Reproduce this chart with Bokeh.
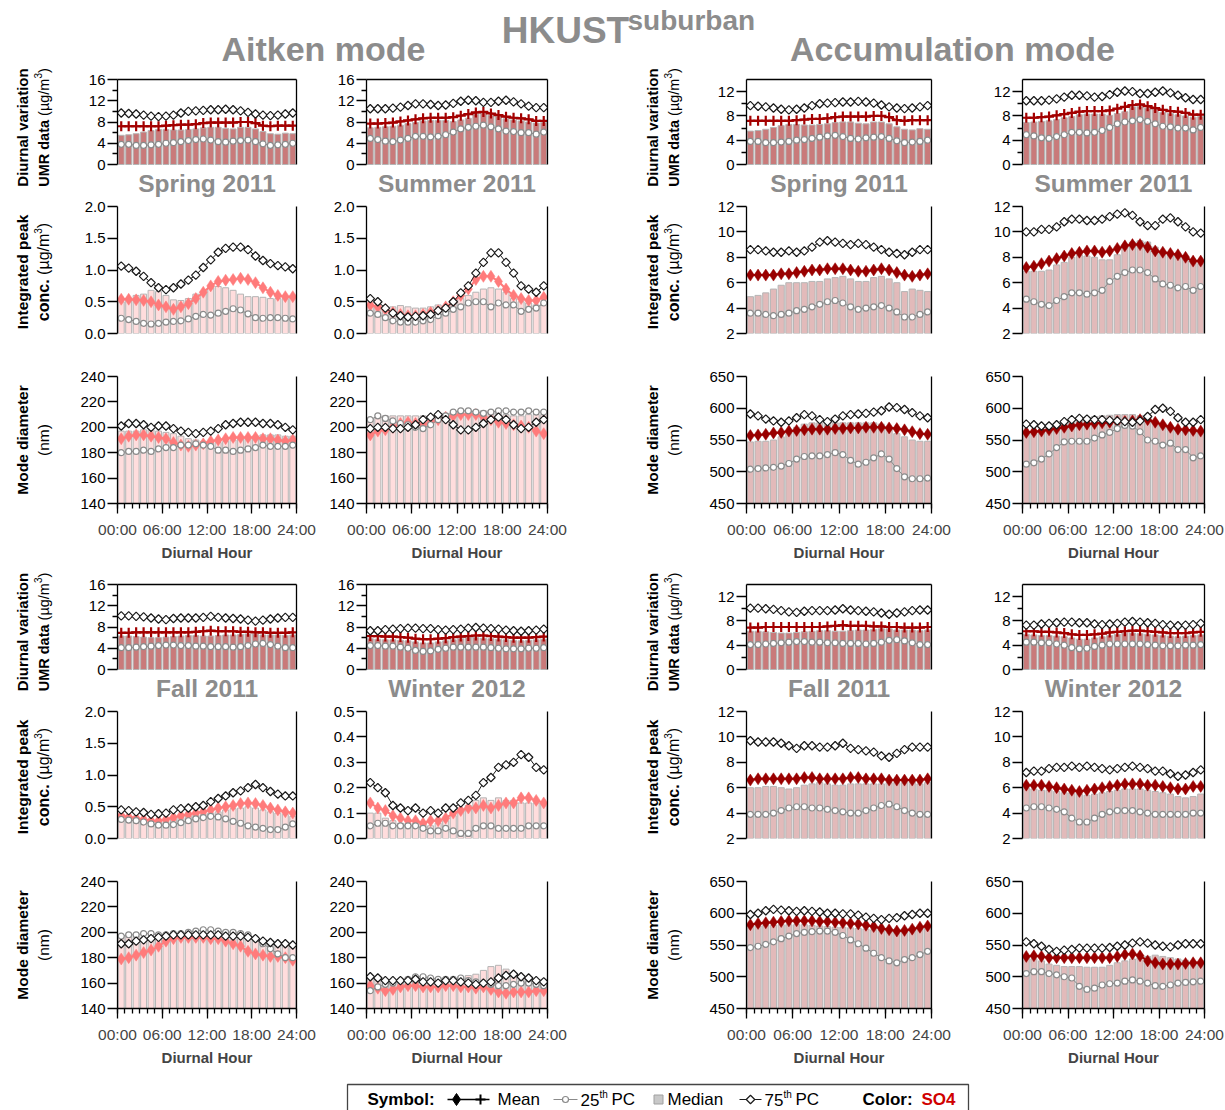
from math import pi
from bokeh.plotting import figure
from bokeh.layouts import column, row
from bokeh.models import (Range1d, LinearAxis, FixedTicker, NumeralTickFormatter,
                          Label, ColumnDataSource)
from bokeh.embed import file_html
from bokeh.resources import INLINE

FONT = "Liberation Sans"
TICK_FS = "15px"

HOURS = [h + 0.5 for h in range(24)]
X_TICKS = [0, 6, 12, 18, 24]
X_TICK_LABELS = ["00:00", "06:00", "12:00", "18:00", "24:00"]
X_MINOR = list(range(25))
SEASONS = ["Spring 2011", "Summer 2011", "Fall 2011", "Winter 2012"]

# ---------------- UMR data (shared by both modes) ----------------
umr_spr_p75 = [9.7,9.6,9.5,9.3,9.1,9.0, 9.1,9.3,9.7,10.0,10.1,10.2, 10.3,10.3,10.4,10.3,10.1,9.8, 9.5,9.3,9.2,9.3,9.5,9.7]
umr_spr_mean = [7.2,7.2,7.2,7.2,7.2,7.2, 7.3,7.4,7.5,7.5,7.6,7.8, 7.9,7.9,7.9,7.9,8.0,8.0, 7.8,7.3,7.2,7.3,7.3,7.3]
umr_spr_med = [5.5,5.6,5.8,6.1,6.4,6.6, 6.6,6.5,6.5,6.6,6.7,6.9, 7.0,7.0,6.8,6.7,7.0,7.0, 6.7,6.2,5.8,5.7,5.9,5.8]
umr_spr_p25 = [3.8,3.8,3.6,3.6,3.7,3.8, 4.0,4.1,4.3,4.5,4.7,4.8, 4.6,4.3,4.2,4.4,4.5,4.6, 4.3,3.9,3.6,3.7,3.8,4.0]

umr_sum_p75 = [10.5,10.5,10.5,10.6,10.8,11.1, 11.4,11.4,11.3,11.1,11.2,11.5, 11.9,12.1,12.0,11.7,11.7,11.9, 12.1,11.8,11.4,11.0,10.7,10.7]
umr_sum_mean = [7.7,7.7,7.8,7.9,8.1,8.3, 8.5,8.7,8.8,8.8,8.8,8.9, 9.2,9.5,9.8,9.9,9.6,9.3, 9.0,8.8,8.7,8.5,8.2,8.2]
umr_sum_med = [6.9,7.0,7.1,7.2,7.4,7.7, 7.9,8.2,8.3,8.3,8.3,8.1, 8.4,8.7,9.5,9.6,9.3,9.1, 8.6,8.4,8.2,8.0,7.8,7.9]
umr_sum_p25 = [4.9,4.7,4.4,4.3,4.6,4.9, 5.3,5.3,5.2,5.3,5.6,6.1, 6.7,7.0,7.2,7.4,7.1,6.7, 6.3,6.2,6.0,6.0,5.7,6.1]

umr_fal_p75 = [10.1,10.1,10.0,9.9,9.7,9.5, 9.4,9.6,9.7,9.7,9.7,9.8, 10.0,9.8,9.7,9.6,9.5,9.3, 9.1,9.3,9.5,9.7,9.8,9.8]
umr_fal_mean = [6.9,6.9,7.0,7.0,7.0,7.0, 7.0,7.0,7.0,7.0,7.1,7.2, 7.3,7.2,7.2,7.2,7.1,7.1, 7.0,7.0,6.9,6.9,6.9,7.0]
umr_fal_med = [6.3,6.3,6.2,6.1,6.0,6.0, 6.1,6.2,6.3,6.4,6.4,6.3, 6.3,6.4,6.5,6.5,6.6,6.7, 6.7,6.5,6.5,6.5,6.4,6.5]
umr_fal_p25 = [4.1,4.1,4.2,4.3,4.4,4.5, 4.6,4.6,4.5,4.5,4.4,4.4, 4.3,4.3,4.3,4.2,4.3,4.5, 4.8,4.9,4.7,4.4,4.1,4.1]

umr_win_p75 = [7.3,7.3,7.5,7.6,7.7,7.8, 7.8,7.7,7.7,7.5,7.4,7.5, 7.6,7.8,7.9,7.8,7.7,7.6, 7.4,7.3,7.2,7.3,7.4,7.6]
umr_win_mean = [6.3,6.3,6.2,6.2,6.1,6.0, 5.8,5.7,5.7,5.8,5.9,6.1, 6.2,6.3,6.4,6.4,6.3,6.2, 6.1,6.0,6.0,6.0,6.1,6.2]
umr_win_med = [5.8,5.7,5.6,5.6,5.5,5.4, 5.2,5.0,5.0,5.2,5.4,5.6, 5.8,6.0,6.0,5.9,5.8,5.7, 5.6,5.5,5.4,5.5,5.6,5.7]
umr_win_p25 = [4.5,4.5,4.4,4.4,4.2,4.0, 3.6,3.4,3.5,3.8,4.0,4.2, 4.2,4.2,4.2,4.2,4.1,4.0, 3.9,3.9,3.9,4.0,4.0,4.1]

# ---------------- Aitken integrated peak conc. ----------------
ait_int_spr_p75 = [1.06,1.03,0.98,0.90,0.80,0.72, 0.69,0.72,0.78,0.84,0.92,1.04, 1.16,1.28,1.34,1.36,1.36,1.32, 1.22,1.15,1.10,1.07,1.05,1.02]
ait_int_spr_mean = [0.54,0.54,0.53,0.52,0.50,0.45, 0.42,0.38,0.42,0.47,0.55,0.65, 0.75,0.82,0.84,0.85,0.87,0.85, 0.80,0.72,0.65,0.60,0.58,0.58]
ait_int_spr_med = [0.50,0.55,0.60,0.62,0.68,0.66, 0.60,0.53,0.52,0.55,0.62,0.66, 0.72,0.74,0.72,0.68,0.62,0.58, 0.58,0.57,0.55,0.55,0.55,0.56]
ait_int_spr_p25 = [0.24,0.22,0.19,0.16,0.15,0.16, 0.18,0.19,0.20,0.23,0.27,0.30, 0.29,0.32,0.35,0.39,0.37,0.31, 0.25,0.24,0.25,0.25,0.24,0.23]

ait_int_sum_p75 = [0.55,0.50,0.40,0.32,0.28,0.26, 0.27,0.28,0.30,0.36,0.40,0.50, 0.64,0.75,0.95,1.12,1.27,1.27, 1.12,0.95,0.75,0.70,0.65,0.75]
ait_int_sum_mean = [0.45,0.42,0.38,0.33,0.30,0.28, 0.28,0.30,0.33,0.36,0.42,0.50, 0.60,0.70,0.85,0.90,0.90,0.82, 0.70,0.60,0.55,0.52,0.52,0.57]
ait_int_sum_med = [0.42,0.42,0.40,0.42,0.44,0.42, 0.40,0.40,0.42,0.45,0.42,0.48, 0.55,0.60,0.65,0.70,0.72,0.70, 0.65,0.55,0.50,0.48,0.45,0.48]
ait_int_sum_p25 = [0.32,0.30,0.25,0.20,0.18,0.18, 0.18,0.20,0.22,0.28,0.32,0.38, 0.42,0.48,0.50,0.50,0.42,0.48, 0.45,0.45,0.35,0.38,0.40,0.48]

ait_int_fal_p75 = [0.45,0.44,0.42,0.41,0.38,0.39, 0.40,0.45,0.47,0.48,0.50,0.52, 0.58,0.63,0.67,0.72,0.75,0.80, 0.85,0.80,0.74,0.70,0.67,0.67]
ait_int_fal_mean = [0.36,0.34,0.32,0.30,0.28,0.28, 0.30,0.33,0.36,0.38,0.40,0.42, 0.45,0.48,0.50,0.52,0.55,0.56, 0.55,0.52,0.48,0.45,0.42,0.40]
ait_int_fal_med = [0.38,0.33,0.30,0.28,0.25,0.25, 0.27,0.30,0.33,0.35,0.37,0.38, 0.40,0.42,0.45,0.47,0.48,0.50, 0.48,0.45,0.42,0.40,0.38,0.35]
ait_int_fal_p25 = [0.30,0.29,0.28,0.26,0.23,0.21, 0.21,0.22,0.25,0.28,0.31,0.33, 0.35,0.34,0.31,0.27,0.24,0.20, 0.18,0.16,0.14,0.14,0.18,0.23]

ait_int_win_p75 = [0.22,0.20,0.18,0.13,0.12,0.11, 0.12,0.10,0.11,0.10,0.12,0.12, 0.14,0.15,0.17,0.22,0.24,0.28, 0.29,0.30,0.33,0.32,0.28,0.27]
ait_int_win_mean = [0.14,0.12,0.11,0.09,0.08,0.07, 0.07,0.06,0.07,0.07,0.08,0.10, 0.11,0.12,0.12,0.13,0.12,0.13, 0.14,0.14,0.16,0.16,0.15,0.14]
ait_int_win_med = [0.10,0.10,0.08,0.07,0.06,0.06, 0.06,0.06,0.05,0.06,0.07,0.09, 0.11,0.13,0.15,0.16,0.15,0.16, 0.15,0.15,0.14,0.14,0.14,0.14]
ait_int_win_p25 = [0.05,0.06,0.06,0.05,0.05,0.05, 0.05,0.04,0.03,0.03,0.04,0.03, 0.02,0.02,0.04,0.05,0.05,0.04, 0.04,0.04,0.04,0.05,0.05,0.05]

# ---------------- Accumulation integrated peak conc. ----------------
acc_int_spr_p75 = [8.6,8.6,8.5,8.4,8.4,8.5, 8.4,8.5,8.8,9.2,9.3,9.2, 9.1,9.0,9.1,9.0,8.8,8.6, 8.4,8.3,8.2,8.4,8.6,8.6]
acc_int_spr_mean = [6.6,6.6,6.6,6.6,6.7,6.7, 6.8,6.9,7.0,7.0,7.1,7.1, 7.1,7.0,6.9,6.9,7.0,7.1, 7.0,6.8,6.6,6.5,6.6,6.7]
acc_int_spr_med = [4.9,5.0,5.2,5.5,5.8,6.0, 6.0,6.0,6.1,6.1,6.3,6.4, 6.5,6.3,6.1,6.1,6.4,6.5, 6.3,6.0,5.3,5.5,5.4,5.3]
acc_int_spr_p25 = [3.6,3.6,3.5,3.4,3.5,3.6, 3.8,3.9,4.1,4.3,4.5,4.6, 4.4,4.1,3.9,4.0,4.1,4.2, 4.0,3.7,3.3,3.3,3.5,3.7]

acc_int_sum_p75 = [10.0,10.0,10.2,10.2,10.4,10.8, 11.0,11.0,10.9,10.9,11.0,11.2, 11.4,11.5,11.3,10.8,10.5,10.5, 11.0,11.1,10.8,10.4,10.0,9.9]
acc_int_sum_mean = [7.2,7.3,7.5,7.7,7.9,8.1, 8.3,8.4,8.5,8.5,8.4,8.5, 8.7,8.9,9.0,9.0,8.8,8.5, 8.4,8.3,8.2,8.0,7.7,7.7]
acc_int_sum_med = [6.9,6.9,6.9,7.0,7.4,7.6, 8.0,8.2,8.1,8.0,7.8,7.8, 8.2,8.8,9.2,9.3,9.2,8.8, 8.4,8.2,8.2,8.0,7.8,7.5]
acc_int_sum_p25 = [4.7,4.5,4.3,4.2,4.6,4.9, 5.2,5.2,5.1,5.2,5.4,6.1, 6.5,6.8,7.0,7.0,6.8,6.3, 5.9,5.8,5.6,5.7,5.4,5.7]

acc_int_fal_p75 = [9.7,9.6,9.6,9.6,9.5,9.3, 9.1,9.3,9.3,9.2,9.2,9.3, 9.5,9.1,9.0,8.9,8.8,8.5, 8.4,8.7,9.0,9.2,9.2,9.2]
acc_int_fal_mean = [6.6,6.7,6.7,6.7,6.7,6.7, 6.7,6.8,6.8,6.7,6.7,6.7, 6.7,6.8,6.8,6.7,6.7,6.7, 6.6,6.6,6.6,6.6,6.6,6.7]
acc_int_fal_med = [6.0,6.0,6.1,6.1,6.0,5.9, 6.0,6.2,6.3,6.4,6.3,6.2, 6.2,6.3,6.3,6.3,6.3,6.3, 6.4,6.4,6.4,6.5,6.3,6.4]
acc_int_fal_p25 = [3.9,3.9,3.9,4.0,4.2,4.4, 4.5,4.5,4.4,4.4,4.3,4.2, 4.1,4.0,4.0,4.2,4.4,4.6, 4.7,4.5,4.2,4.0,3.9,3.9]

acc_int_win_p75 = [7.2,7.3,7.3,7.5,7.6,7.6, 7.7,7.6,7.7,7.6,7.5,7.4, 7.5,7.6,7.7,7.6,7.5,7.3, 7.3,7.1,6.9,7.0,7.2,7.4]
acc_int_win_mean = [6.2,6.2,6.2,6.1,6.0,5.9, 5.8,5.7,5.8,5.9,6.0,6.1, 6.2,6.3,6.3,6.3,6.2,6.2, 6.1,6.0,5.9,5.9,6.1,6.1]
acc_int_win_med = [6.0,5.9,5.8,5.8,5.7,5.6, 5.6,5.5,5.4,5.5,5.6,5.7, 5.8,5.9,5.9,5.9,5.8,5.7, 5.6,5.5,5.3,5.2,5.3,5.5]
acc_int_win_p25 = [4.4,4.5,4.5,4.4,4.3,4.1, 3.6,3.3,3.3,3.6,3.9,4.1, 4.2,4.2,4.2,4.1,4.0,3.9, 3.9,3.9,3.9,3.9,4.0,4.0]

# ---------------- Aitken mode diameter ----------------
ait_dia_spr_p75 = [201,203,203,202,200,201, 201,199,197,196,195,196, 197,199,202,203,204,204, 204,203,203,202,200,198]
ait_dia_spr_mean = [191,193,194,194,193,192, 191,188,186,185,186,187, 189,190,191,192,192,192, 192,191,191,190,189,190]
ait_dia_spr_med = [197,197,197,198,198,197, 196,195,193,191,190,189, 188,188,189,190,191,192, 193,194,194,194,193,193]
ait_dia_spr_p25 = [180,181,181,182,181,183, 184,184,186,186,187,186, 185,182,182,181,182,183, 184,186,185,185,185,186]

ait_dia_sum_p75 = [199,200,200,199,199,200, 202,206,208,210,206,202, 198,198,200,203,206,208, 206,202,199,200,204,206]
ait_dia_sum_mean = [194,197,198,200,203,204, 203,202,204,206,208,209, 210,210,210,208,206,204, 203,202,201,200,197,195]
ait_dia_sum_med = [207,208,209,209,209,209, 209,209,209,210,211,212, 213,213,213,213,213,212, 210,209,209,210,210,210]
ait_dia_sum_p25 = [206,209,207,205,203,202, 200,199,202,206,209,212, 213,213,212,211,212,213, 213,212,212,213,212,212]

ait_dia_fal_p75 = [191,191,193,194,195,196, 197,198,198,198,198,198, 198,198,197,197,197,196, 195,193,192,191,191,190]
ait_dia_fal_mean = [179,180,182,184,186,189, 193,195,196,196,196,196, 195,195,193,191,189,185, 183,182,181,181,180,178]
ait_dia_fal_med = [197,197,197,196,196,197, 198,198,199,200,200,200, 200,200,199,199,199,198, 195,194,193,192,190,190]
ait_dia_fal_p25 = [197,198,198,199,199,198, 198,199,199,200,201,202, 202,201,200,200,199,198, 195,191,187,183,180,180]

ait_dia_win_p75 = [165,164,162,162,162,162, 163,161,161,160,162,162, 161,160,159,160,161,164, 166,167,165,164,162,161]
ait_dia_win_mean = [158,156,154,155,157,158, 158,157,157,157,158,158, 157,157,156,157,155,153, 152,153,153,153,154,154]
ait_dia_win_med = [165,164,163,162,163,164, 165,165,165,164,164,164, 165,166,167,170,173,174, 171,168,165,164,163,163]
ait_dia_win_p25 = [154,157,159,160,162,163, 165,165,164,163,163,163, 164,162,161,160,159,158, 158,159,160,160,159,158]

# ---------------- Accumulation mode diameter ----------------
acc_dia_spr_p75 = [591,588,583,580,578,580, 585,590,588,582,579,583, 588,590,591,592,594,596, 602,601,598,593,588,585]
acc_dia_spr_mean = [557,558,559,561,562,564, 565,566,567,567,567,568, 568,569,569,570,570,570, 569,568,566,563,560,559]
acc_dia_spr_med = [547,548,548,550,555,562, 570,575,577,577,577,577, 577,577,577,577,577,575, 570,560,555,550,548,548]
acc_dia_spr_p25 = [504,505,506,507,509,513, 520,524,525,525,527,530, 527,518,512,515,522,528, 520,505,492,489,489,490]

acc_dia_sum_p75 = [575,574,572,572,574,579, 582,584,583,582,582,581, 580,579,578,580,587,598, 600,595,585,578,578,582]
acc_dia_sum_mean = [562,563,564,566,568,570, 572,574,575,576,577,578, 579,579,580,582,582,578, 574,570,567,566,565,564]
acc_dia_sum_med = [560,560,565,570,575,580, 583,585,586,587,588,589, 590,590,590,588,585,580, 575,570,568,566,564,562]
acc_dia_sum_p25 = [512,514,520,528,538,547, 548,548,548,553,558,562, 568,573,572,563,550,548, 542,545,535,535,522,525]

acc_dia_fal_p75 = [598,600,604,606,605,604, 603,604,603,602,600,600, 599,599,597,594,592,590, 592,593,596,598,600,600]
acc_dia_fal_mean = [582,584,585,586,587,588, 588,588,588,587,587,586, 585,584,583,581,579,576, 574,572,573,575,578,580]
acc_dia_fal_med = [580,580,581,581,582,582, 582,582,581,580,579,578, 578,577,576,575,574,573, 573,574,575,576,577,578]
acc_dia_fal_p25 = [546,548,551,555,560,564, 568,570,571,572,572,570, 565,558,552,545,537,530, 525,522,527,530,535,540]

acc_dia_win_p75 = [555,552,548,543,540,542, 543,545,545,545,545,546, 548,550,553,555,553,550, 548,547,550,552,552,552]
acc_dia_win_mean = [532,533,532,530,530,530, 530,530,530,530,530,530, 532,535,536,533,525,522, 520,520,520,521,522,522]
acc_dia_win_med = [530,528,525,520,518,516, 516,516,515,515,515,518, 522,525,528,530,532,534, 532,530,528,526,524,522]
acc_dia_win_p25 = [505,508,508,505,503,500, 498,485,480,482,487,489, 490,493,495,493,490,486, 485,487,490,491,492,493]

# ---------------- axis specs ----------------
UMR_AIT_RANGE, UMR_AIT_TICKS, UMR_AIT_MINOR = (0, 16), [0, 4, 8, 12, 16], [2, 6, 10, 14]
UMR_ACC_RANGE, UMR_ACC_TICKS, UMR_ACC_MINOR = (0, 14), [0, 4, 8, 12], [2, 6, 10]
INT_AIT_RANGE, INT_AIT_TICKS = (0, 2.0), [0.0, 0.5, 1.0, 1.5, 2.0]
INT_AIT_WIN_RANGE, INT_AIT_WIN_TICKS = (0, 0.5), [0.0, 0.1, 0.2, 0.3, 0.4, 0.5]
INT_ACC_RANGE, INT_ACC_TICKS = (2, 12), [2, 4, 6, 8, 10, 12]
DIA_AIT_RANGE, DIA_AIT_TICKS = (140, 240), [140, 160, 180, 200, 220, 240]
DIA_ACC_RANGE, DIA_ACC_TICKS = (450, 650), [450, 500, 550, 600, 650]

# ---------------- styles ----------------
MEAN_UMR = "#A30000"
MEAN_AIT = "#FF7B7B"
MEAN_ACC = "#990000"
BAR_UMR = "#C97A7A"
BAR_AIT = "#FFDDDD"
BAR_ACC = "#E2BABA"
BAR_LINE = "#B5B5B5"
P25_COL = "#8A8A8A"
P75_COL = "#1A1A1A"
GRAY_T = "#8C8C8C"

# column geometry: [left border, frame width, right border]
COL_BL = [55, 50, 56, 71]
COL_FW = [179, 181, 185, 182]
COL_BR = [20, 53, 20, 20]
LAB_L_W, LAB_M_W = 62, 90
TOTAL_W = LAB_L_W + LAB_M_W + sum(COL_BL) + sum(COL_FW) + sum(COL_BR)

TITLE_H = 67
UMR_H, INT_H, DIA_H = 85, 127, 127
UMR_EXT = 33          # space below the UMR data area that holds the season title
SEASON_DY = 19        # season title centre, px below the UMR zero line
UMR_TOP = [12, 21]
INT_TOP, INT_BOT = 9, 22
DIA_TOP, DIA_BOT = 21, 59

REG_W = {' ': .278, '(': .333, ')': .333, 'µ': .576, 'g': .556, '/': .278, 'm': .833,
         '3': .556, 'n': .556, 'c': .5, 'o': .556, '.': .278}
BOLD_W = {'U': .722, 'M': .833, 'R': .722, ' ': .278, 'd': .611, 'a': .556, 't': .333,
          'c': .556, 'o': .611, 'n': .611, '.': .278}


def text_w(s, bold, size):
    tab = BOLD_W if bold else REG_W
    return sum(tab.get(ch, 0.55) for ch in s) * size


def base_fig(fw, fh, bl, br, bt, bb, xr, yr):
    p = figure(frame_width=fw, frame_height=fh, min_border_left=bl, min_border_right=br,
               min_border_top=bt, min_border_bottom=bb, x_range=xr, y_range=yr,
               x_axis_location=None, y_axis_location=None, toolbar_location=None,
               tools="", title=None, output_backend="svg", outline_line_color=None,
               background_fill_color="white", border_fill_color="white")
    p.grid.visible = False
    return p


def canvas_fig(w, h):
    # plain drawing area whose data units are pixels from its top-left corner
    return base_fig(w, h, 0, 0, 0, 0, Range1d(0, w), Range1d(h, 0))


def edge_axis(bounds="auto"):
    return LinearAxis(ticker=FixedTicker(ticks=[]), bounds=bounds,
                      major_tick_line_color=None, minor_tick_line_color=None,
                      major_tick_out=0, minor_tick_out=0,
                      major_label_text_font_size="0px", major_label_standoff=0,
                      axis_line_width=1.3, axis_line_color="black")


def txt(p, x, y, text, size, bold=False, color="black", align="left", angle=0.0,
        font=FONT):
    p.add_layout(Label(x=x, y=y, text=text, angle=angle, text_font=font,
                       text_font_size=f"{size}px",
                       text_font_style="bold" if bold else "normal", text_color=color,
                       text_align=align, text_baseline="middle"))


def vlabel_two(p, x1, x2, yc, line1, pieces, size1=15):
    """pieces: (text, bold, size, x shift, gap before in px)"""
    txt(p, x1, yc, line1, size1, True, align="center", angle=pi / 2)
    total = sum(text_w(t, b, s) + gap for t, b, s, _, gap in pieces)
    pos = yc + total / 2
    for t, b, s, dx, gap in pieces:
        pos -= gap
        txt(p, x2 + dx, pos, t, s, b, align="left", angle=pi / 2)
        pos -= text_w(t, b, s)


def panel(kind, col, group, season, vals, yr, yticks, minor, fmt, bar_fill, mean_col,
          mean_marker):
    fw, bl, br = COL_FW[col], COL_BL[col], COL_BR[col]
    if kind == "umr":
        span = yr[1] - yr[0]
        fh, bt, bb = UMR_H + UMR_EXT, UMR_TOP[group], 0
        y_range = Range1d(yr[0] - UMR_EXT * span / UMR_H, yr[1])
        bounds = yr
    elif kind == "int":
        fh, bt, bb = INT_H, INT_TOP, INT_BOT
        y_range, bounds = Range1d(*yr), "auto"
    else:
        fh, bt, bb = DIA_H, DIA_TOP, DIA_BOT
        y_range, bounds = Range1d(*yr), "auto"
    p = base_fig(fw, fh, bl, br, bt, bb, Range1d(0, 24), y_range)

    p75, mean, med, p25 = vals
    src = ColumnDataSource(dict(h=HOURS, p75=p75, mean=mean, med=med, p25=p25))
    p.vbar(x="h", top="med", bottom=yr[0], width=0.8, fill_color=bar_fill,
           line_color=BAR_LINE, line_width=1, source=src)
    p.line("h", "mean", line_color=mean_col, line_width=2, source=src)
    if mean_marker == "cross":
        p.scatter("h", "mean", marker="cross", size=10, line_color=mean_col, line_width=2.2,
                  source=src)
    else:
        p.scatter("h", "mean", marker="diamond", size=12, fill_color=mean_col,
                  line_color=mean_col, line_width=0.5, source=src)
    p.line("h", "p25", line_color=P25_COL, line_width=1, source=src)
    p.scatter("h", "p25", marker="circle", size=6, fill_color="white", line_color=P25_COL,
              line_width=1.2, source=src)
    p.line("h", "p75", line_color=P75_COL, line_width=1, source=src)
    p.scatter("h", "p75", marker="square", angle=pi / 4, size=6, fill_color="white",
              line_color=P75_COL, line_width=1.2, source=src)

    yax = LinearAxis(ticker=FixedTicker(ticks=yticks, minor_ticks=minor), bounds=bounds,
                     formatter=NumeralTickFormatter(format=fmt),
                     major_tick_out=10, major_tick_in=0, minor_tick_out=5, minor_tick_in=0,
                     axis_line_width=1.3, major_tick_line_width=1.3, minor_tick_line_width=1.3,
                     major_label_standoff=2, major_label_text_font=FONT,
                     major_label_text_font_size=TICK_FS, major_label_text_color="black")
    p.add_layout(yax, "left")
    p.add_layout(edge_axis(bounds), "right")
    if kind == "umr":
        p.add_layout(edge_axis(), "above")
        span = yr[1] - yr[0]
        p.add_layout(Label(x=12, y=yr[0] - SEASON_DY * span / UMR_H, text=SEASONS[season],
                           text_font=FONT, text_font_size="24.5px", text_font_style="bold",
                           text_color=GRAY_T, text_align="center", text_baseline="middle"))
    if kind == "dia":
        xax = LinearAxis(ticker=FixedTicker(ticks=X_TICKS, minor_ticks=X_MINOR),
                         major_label_overrides=dict(zip(X_TICKS, X_TICK_LABELS)),
                         major_tick_out=10, major_tick_in=0, minor_tick_out=5, minor_tick_in=0,
                         axis_line_width=1.3, major_tick_line_width=1.3,
                         minor_tick_line_width=1.3, major_label_standoff=7,
                         major_label_text_font=FONT, major_label_text_font_size="15.5px",
                         axis_label="Diurnal Hour", axis_label_text_font=FONT,
                         axis_label_text_font_size="15px", axis_label_text_font_style="bold",
                         axis_label_standoff=3)
        p.add_layout(xax, "below")
    return p


UMR = {
    0: (umr_spr_p75, umr_spr_mean, umr_spr_med, umr_spr_p25),
    1: (umr_sum_p75, umr_sum_mean, umr_sum_med, umr_sum_p25),
    2: (umr_fal_p75, umr_fal_mean, umr_fal_med, umr_fal_p25),
    3: (umr_win_p75, umr_win_mean, umr_win_med, umr_win_p25),
}
AIT_INT = {
    0: (ait_int_spr_p75, ait_int_spr_mean, ait_int_spr_med, ait_int_spr_p25),
    1: (ait_int_sum_p75, ait_int_sum_mean, ait_int_sum_med, ait_int_sum_p25),
    2: (ait_int_fal_p75, ait_int_fal_mean, ait_int_fal_med, ait_int_fal_p25),
    3: (ait_int_win_p75, ait_int_win_mean, ait_int_win_med, ait_int_win_p25),
}
ACC_INT = {
    0: (acc_int_spr_p75, acc_int_spr_mean, acc_int_spr_med, acc_int_spr_p25),
    1: (acc_int_sum_p75, acc_int_sum_mean, acc_int_sum_med, acc_int_sum_p25),
    2: (acc_int_fal_p75, acc_int_fal_mean, acc_int_fal_med, acc_int_fal_p25),
    3: (acc_int_win_p75, acc_int_win_mean, acc_int_win_med, acc_int_win_p25),
}
AIT_DIA = {
    0: (ait_dia_spr_p75, ait_dia_spr_mean, ait_dia_spr_med, ait_dia_spr_p25),
    1: (ait_dia_sum_p75, ait_dia_sum_mean, ait_dia_sum_med, ait_dia_sum_p25),
    2: (ait_dia_fal_p75, ait_dia_fal_mean, ait_dia_fal_med, ait_dia_fal_p25),
    3: (ait_dia_win_p75, ait_dia_win_mean, ait_dia_win_med, ait_dia_win_p25),
}
ACC_DIA = {
    0: (acc_dia_spr_p75, acc_dia_spr_mean, acc_dia_spr_med, acc_dia_spr_p25),
    1: (acc_dia_sum_p75, acc_dia_sum_mean, acc_dia_sum_med, acc_dia_sum_p25),
    2: (acc_dia_fal_p75, acc_dia_fal_mean, acc_dia_fal_med, acc_dia_fal_p25),
    3: (acc_dia_win_p75, acc_dia_win_mean, acc_dia_win_med, acc_dia_win_p25),
}


def label_fig(w, g, x1, x2):
    umr_row = UMR_TOP[g] + UMR_H + UMR_EXT
    h = umr_row + INT_TOP + INT_H + INT_BOT + DIA_TOP + DIA_H + DIA_BOT
    p = canvas_fig(w, h)
    yc_umr = UMR_TOP[g] + UMR_H / 2 + (5.5 if g == 0 else 5)
    yc_int = umr_row + INT_TOP + INT_H / 2 + 2
    yc_dia = umr_row + INT_TOP + INT_H + INT_BOT + DIA_TOP + DIA_H / 2
    vlabel_two(p, x1, x2, yc_umr, "Diurnal variation",
               [("UMR data", True, 14.5, 0, 0), ("(µg/m", False, 14.5, 0, 4),
                ("3", False, 10, -6, 0), (")", False, 14.5, 0, 0)])
    vlabel_two(p, x1, x2, yc_int, "Integrated peak",
               [("conc.", True, 16, 0, 0), ("(µg/m", False, 16, 0, 4.5),
                ("3", False, 10, -6, 0), (")", False, 16, 0, 0)], size1=15.5)
    txt(p, x1, yc_dia, "Mode diameter", 15.5, True, align="center", angle=pi / 2)
    txt(p, x2, yc_dia, "(nm)", 15.5, False, align="center", angle=pi / 2)
    return p


layout_rows = []

# ---------------- title figure ----------------
tf = canvas_fig(TOTAL_W, TITLE_H)
txt(tf, 565, 30, "HKUST", 37, True, GRAY_T, align="center")
txt(tf, 627, 20, "suburban", 28, True, GRAY_T, align="left")
txt(tf, 323, 48, "Aitken mode", 34, True, GRAY_T, align="center")
txt(tf, 952, 48, "Accumulation mode", 34, True, GRAY_T, align="center")
layout_rows.append(tf)

for g in range(2):
    sa, sb = (0, 1) if g == 0 else (2, 3)
    left_rows, right_rows = [], []
    # UMR rows (with season titles underneath)
    left_rows.append(row(
        panel("umr", 0, g, sa, UMR[sa], UMR_AIT_RANGE, UMR_AIT_TICKS, UMR_AIT_MINOR, "0",
              BAR_UMR, MEAN_UMR, "cross"),
        panel("umr", 1, g, sb, UMR[sb], UMR_AIT_RANGE, UMR_AIT_TICKS, UMR_AIT_MINOR, "0",
              BAR_UMR, MEAN_UMR, "cross")))
    right_rows.append(row(
        panel("umr", 2, g, sa, UMR[sa], UMR_ACC_RANGE, UMR_ACC_TICKS, UMR_ACC_MINOR, "0",
              BAR_UMR, MEAN_UMR, "cross"),
        panel("umr", 3, g, sb, UMR[sb], UMR_ACC_RANGE, UMR_ACC_TICKS, UMR_ACC_MINOR, "0",
              BAR_UMR, MEAN_UMR, "cross")))
    # integrated peak rows
    ints = []
    for col, s in ((0, sa), (1, sb)):
        if s == 3:
            yr, yt = INT_AIT_WIN_RANGE, INT_AIT_WIN_TICKS
        else:
            yr, yt = INT_AIT_RANGE, INT_AIT_TICKS
        ints.append(panel("int", col, g, s, AIT_INT[s], yr, yt, [], "0.0",
                          BAR_AIT, MEAN_AIT, "diamond"))
    left_rows.append(row(*ints))
    right_rows.append(row(
        panel("int", 2, g, sa, ACC_INT[sa], INT_ACC_RANGE, INT_ACC_TICKS, [], "0",
              BAR_ACC, MEAN_ACC, "diamond"),
        panel("int", 3, g, sb, ACC_INT[sb], INT_ACC_RANGE, INT_ACC_TICKS, [], "0",
              BAR_ACC, MEAN_ACC, "diamond")))
    # mode diameter rows
    left_rows.append(row(
        panel("dia", 0, g, sa, AIT_DIA[sa], DIA_AIT_RANGE, DIA_AIT_TICKS, [], "0",
              BAR_AIT, MEAN_AIT, "diamond"),
        panel("dia", 1, g, sb, AIT_DIA[sb], DIA_AIT_RANGE, DIA_AIT_TICKS, [], "0",
              BAR_AIT, MEAN_AIT, "diamond")))
    right_rows.append(row(
        panel("dia", 2, g, sa, ACC_DIA[sa], DIA_ACC_RANGE, DIA_ACC_TICKS, [], "0",
              BAR_ACC, MEAN_ACC, "diamond"),
        panel("dia", 3, g, sb, ACC_DIA[sb], DIA_ACC_RANGE, DIA_ACC_TICKS, [], "0",
              BAR_ACC, MEAN_ACC, "diamond")))
    layout_rows.append(row(label_fig(LAB_L_W, g, 22, 43), column(*left_rows),
                           label_fig(LAB_M_W, g, 52, 73), column(*right_rows)))

# ---------------- legend figure ----------------
lf = canvas_fig(TOTAL_W, 42)
lf.quad(left=[347], right=[968], top=[16], bottom=[70], fill_color=None,
        line_color="#444444", line_width=1.3)
LY = 31
txt(lf, 367, LY, "Symbol:", 17, True)
lf.line([447, 489], [LY, LY], line_color="black", line_width=1.5)
lf.scatter([456], [LY], marker="diamond", size=12, fill_color="black", line_color="black")
lf.scatter([480], [LY], marker="cross", size=10, line_color="black", line_width=2)
txt(lf, 497, LY, "Mean", 17)
lf.line([553, 577], [LY, LY], line_color=P25_COL, line_width=1)
lf.scatter([565], [LY], marker="circle", size=6, fill_color="white", line_color=P25_COL,
           line_width=1.2)
txt(lf, 580, LY, "25", 17)
txt(lf, 599, LY - 5, "th", 10)
txt(lf, 611, LY, "PC", 17)
lf.scatter([658], [LY], marker="square", size=9, fill_color="#C8C8C8", line_color="#A0A0A0")
txt(lf, 667, LY, "Median", 17)
lf.line([739, 761], [LY, LY], line_color=P75_COL, line_width=1)
lf.scatter([750], [LY], marker="square", angle=pi / 4, size=6, fill_color="white",
           line_color=P75_COL, line_width=1.2)
txt(lf, 764, LY, "75", 17)
txt(lf, 783, LY - 5, "th", 10)
txt(lf, 795, LY, "PC", 17)
txt(lf, 862, LY, "Color:", 17, True)
txt(lf, 921, LY, "SO4", 17, True, "#D00000")
layout_rows.append(lf)

layout = column(*layout_rows)
open("out.html", "w").write(file_html(layout, INLINE))
